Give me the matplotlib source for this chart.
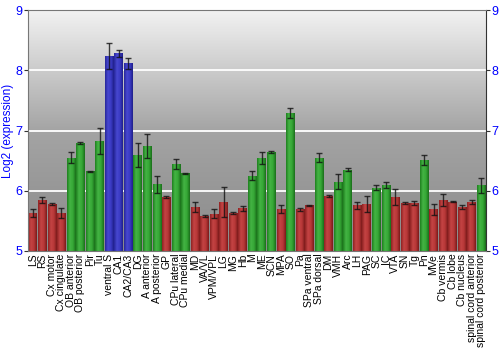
import matplotlib
matplotlib.use("Agg")
import matplotlib.pyplot as plt
from matplotlib.colors import LinearSegmentedColormap
import numpy as np

plt.rcParams['font.family'] = ['Liberation Sans', 'DejaVu Sans']

regions = ["LS", "RS", "Cx motor", "Cx cingulate", "OB anterior", "OB posterior",
           "Pir", "Tu", "ventral S", "CA1", "CA2/CA3", "DG", "A anterior",
           "A posterior", "GP", "CPu lateral", "CPu medial", "MD", "VA/VL",
           "VPM/VPL", "LG", "MG", "Hb", "M", "ME", "SCN", "MPA", "SO", "Pa",
           "SPa ventral", "SPa dorsal", "DM", "VMH", "Arc", "LH", "PAG", "SC",
           "IC", "VTA", "SN", "Tg", "Pn", "MVe", "Cb vermis", "Cb lobe",
           "Cb nucleus", "spinal cord anterior", "spinal cord posterior"]

expression = [5.63, 5.84, 5.78, 5.63, 6.55, 6.79, 6.32, 6.83, 8.24, 8.28, 8.12,
              6.60, 6.75, 6.11, 5.90, 6.44, 6.29, 5.73, 5.58, 5.62, 5.82, 5.63,
              5.71, 6.25, 6.55, 6.64, 5.70, 7.29, 5.69, 5.76, 6.55, 5.91, 6.15,
              6.35, 5.76, 5.78, 6.05, 6.10, 5.90, 5.80, 5.80, 6.51, 5.69, 5.84,
              5.82, 5.73, 5.81, 6.09]

errors = [0.07, 0.05, 0.01, 0.09, 0.09, 0.02, 0.01, 0.22, 0.21, 0.05, 0.09,
          0.20, 0.20, 0.14, 0.02, 0.08, 0.01, 0.08, 0.02, 0.07, 0.25, 0.02,
          0.04, 0.07, 0.10, 0.02, 0.07, 0.08, 0.02, 0.01, 0.08, 0.02, 0.12,
          0.02, 0.06, 0.13, 0.04, 0.05, 0.13, 0.02, 0.03, 0.09, 0.09, 0.10,
          0.01, 0.03, 0.03, 0.13]

# r = red, g = green, b = blue
groups = "rrrrggggbbbgggrggrrrrrrgggrgrrgrggrrggrrrgrrrrrg"

shades = {
    "r": ["#8e2222", "#c44444", "#b83838", "#7a1a1a"],
    "g": ["#1f7f1f", "#44b444", "#36a836", "#1a6e1a"],
    "b": ["#26269a", "#4848d0", "#3a3ac4", "#20208a"],
}

fig = plt.figure(figsize=(5, 3.5), dpi=100)
ax = fig.add_axes([0.056, 0.283, 0.916, 0.688])

ymin, ymax = 5, 9
x = np.arange(len(regions))
ax.set_xlim(-0.5, len(regions) - 0.5)
ax.set_ylim(ymin, ymax)

# background gradient
bg = LinearSegmentedColormap.from_list("bg", ["#8a8a8a", "#a4a4a4", "#f2f2f2"])
grad = np.linspace(0, 1, 256).reshape(-1, 1)
ax.imshow(grad, extent=[-0.5, len(regions) - 0.5, ymin, ymax], origin="lower",
          aspect="auto", cmap=bg, zorder=0)

for yv in [6, 7, 8]:
    ax.axhline(yv, color="white", lw=1.3, zorder=1)

bars = ax.bar(x, np.array(expression) - ymin, bottom=ymin, width=0.9,
              color="none", edgecolor="none", zorder=2)
hgrad = np.linspace(0, 1, 64).reshape(1, -1)
for b, g in zip(bars, groups):
    cm = LinearSegmentedColormap.from_list("c" + g, shades[g])
    x0, y0 = b.get_x(), b.get_y()
    im = ax.imshow(hgrad, extent=[x0, x0 + b.get_width(), y0, y0 + b.get_height()],
                   aspect="auto", cmap=cm, zorder=2)
    im.set_clip_path(b)

ax.errorbar(x, expression, yerr=errors, fmt="none", ecolor="#111111",
            elinewidth=1, capsize=2.5, capthick=1, alpha=0.8, zorder=3)

ax.set_xticks(x)
ax.set_xticklabels(regions, rotation=90, fontsize=7.5)
ax.tick_params(axis="x", length=0, pad=2)
ax.set_yticks([5, 6, 7, 8, 9])
ax.tick_params(axis="y", colors="#333333", labelcolor="blue", labelsize=9,
               length=3, right=True, labelright=True, pad=1)
ax.set_ylabel("Log2 (expression)", color="blue", fontsize=8.5, labelpad=1)

for side in ["top", "left", "bottom"]:
    ax.spines[side].set_color("#777777")
ax.spines["right"].set_color("#333333")

fig.savefig("out.png", dpi=100)
